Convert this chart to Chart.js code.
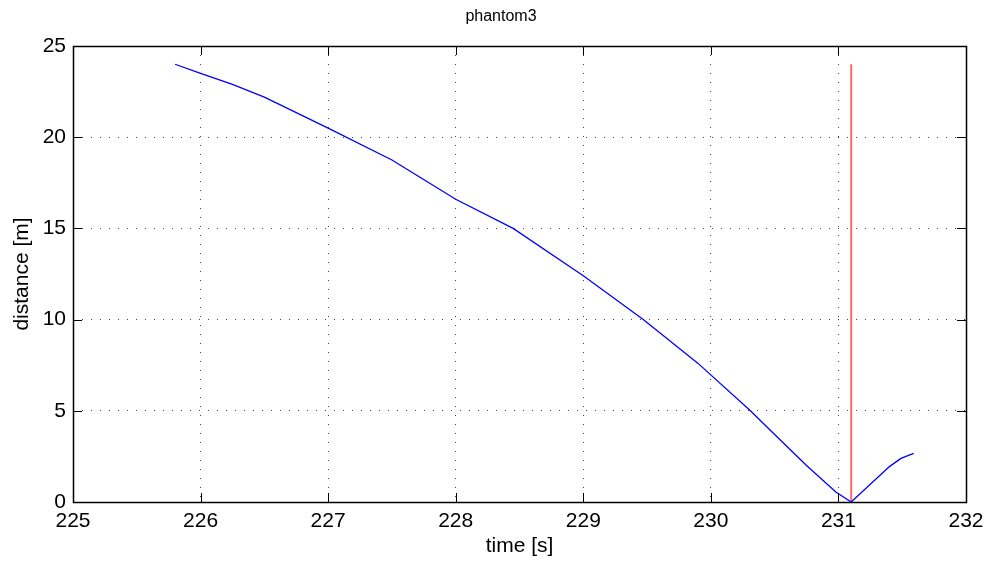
<!DOCTYPE html>
<html>
<head>
<meta charset="utf-8">
<script src="https://cdn.jsdelivr.net/npm/chart.js@4"></script>
<style>
  html, body { margin: 0; padding: 0; background: #fff; }
  #wrap { width: 987px; height: 561px; }
</style>
</head>
<body>
<div id="wrap"><canvas id="chart"></canvas></div>
<script>
// data
const timeS = [225.8, 226.0, 226.25, 226.5, 227.0, 227.5, 228.0, 228.45, 229.0, 229.47, 229.9, 230.31, 230.5, 230.75, 230.98, 231.1, 231.4, 231.49, 231.59];
const distM = [24.0, 23.5, 22.9, 22.2, 20.5, 18.75, 16.6, 15.0, 12.4, 10.0, 7.6, 5.0, 3.7, 2.0, 0.55, 0.0, 1.94, 2.39, 2.67];
const markerT = [231.1, 231.1];
const markerD = [0, 24];
const xTicks = [225, 226, 227, 228, 229, 230, 231, 232];
const yTicks = [0, 5, 10, 15, 20, 25];
const titleText = "phantom3";

const font = "'Liberation Sans', Arial, sans-serif";

// matlab style box with inward ticks, plus the title
const boxPlugin = {
  id: "box",
  afterDatasetsDraw(chart) {
    const { ctx, chartArea: a, scales } = chart;
    ctx.save();
    ctx.strokeStyle = "#000";
    ctx.lineWidth = 1;
    ctx.beginPath();
    xTicks.forEach(t => {
      const x = Math.round(scales.x.getPixelForValue(t)) + 0.5;
      ctx.moveTo(x, a.bottom); ctx.lineTo(x, a.bottom - 9);
      ctx.moveTo(x, a.top); ctx.lineTo(x, a.top + 9);
    });
    yTicks.forEach(t => {
      const y = Math.round(scales.y.getPixelForValue(t)) + 0.5;
      ctx.moveTo(a.left, y); ctx.lineTo(a.left + 9, y);
      ctx.moveTo(a.right, y); ctx.lineTo(a.right - 9, y);
    });
    ctx.stroke();
    ctx.lineWidth = 1.5;
    ctx.strokeRect(Math.round(a.left) + 0.5, Math.round(a.top) + 0.5,
      Math.round(a.right - a.left), Math.round(a.bottom - a.top));

    ctx.fillStyle = "#000";
    ctx.font = "16px " + font;
    ctx.textAlign = "center";
    ctx.textBaseline = "middle";
    ctx.fillText(titleText, 501, 17);
    ctx.restore();
  }
};

new Chart(document.getElementById("chart"), {
  type: "line",
  data: {
    datasets: [
      {
        data: timeS.map((t, i) => ({ x: t, y: distM[i] })),
        borderColor: "#0000ff",
        borderWidth: 1.3,
        pointRadius: 0,
        tension: 0
      },
      {
        data: markerT.map((t, i) => ({ x: t, y: markerD[i] })),
        borderColor: "#ff6b6b",
        borderWidth: 2,
        pointRadius: 0
      }
    ]
  },
  plugins: [boxPlugin],
  options: {
    responsive: true,
    maintainAspectRatio: false,
    animation: false,
    layout: { padding: { left: 0, right: 21, top: 46, bottom: 0 } },
    plugins: {
      legend: { display: false },
      tooltip: { enabled: false },
      title: { display: false }
    },
    scales: {
      x: {
        type: "linear",
        min: 225,
        max: 232,
        afterBuildTicks: s => { s.ticks = xTicks.map(v => ({ value: v })); },
        afterFit: s => { s.height = 59; s.paddingLeft = 0; s.paddingRight = 0; },
        grid: { color: "#444", drawTicks: false, lineWidth: 1 },
        border: { display: false, dash: [1, 8] },
        ticks: { color: "#000", font: { family: font, size: 21 }, padding: 7, maxRotation: 0 },
        title: { display: true, text: "time [s]", color: "#000", font: { family: font, size: 21 }, padding: { top: 0, bottom: 2 } }
      },
      y: {
        min: 0,
        max: 25,
        afterBuildTicks: s => { s.ticks = yTicks.map(v => ({ value: v })); },
        afterFit: s => { s.width = 73; s.paddingTop = 0; s.paddingBottom = 0; },
        grid: { color: "#444", drawTicks: false, lineWidth: 1 },
        border: { display: false, dash: [1, 8] },
        ticks: { color: "#000", font: { family: font, size: 21 }, padding: 7 },
        title: { display: true, text: "distance [m]", color: "#000", font: { family: font, size: 21 }, padding: { top: 10, bottom: 0 } }
      }
    }
  }
});
</script>
</body>
</html>
